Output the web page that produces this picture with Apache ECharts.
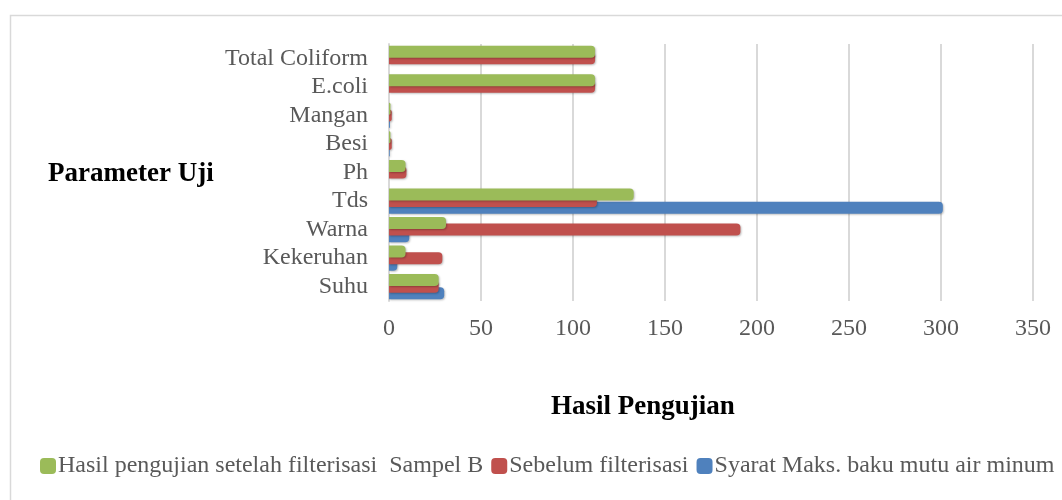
<!DOCTYPE html>
<html>
	<head>
		<meta charset="utf-8">
		<title>Hasil Pengujian</title>
		<script src="https://cdn.jsdelivr.net/npm/echarts@6/dist/echarts.min.js"></script>
		<style>
			body { margin: 0; background: #fff; }
		</style>
	</head>
	<body>
		<div id="main" style="width:1062px;height:500px;"></div>
		<script>
			// data
			var kategori = ['Suhu', 'Kekeruhan', 'Warna', 'Tds', 'Ph', 'Besi', 'Mangan', 'E.coli', 'Total Coliform'];
			var setelahFilter = [27, 9, 31, 133, 9, 0.8, 0.8, 112, 112];
			var sebelumFilter = [27, 29, 191, 113, 9.5, 1.5, 1.5, 112, 112];
			var syaratMaks = [30, 4.5, 11, 301, 0, 0.4, 0.5, 0, 0];
			var nilaiX = [0, 50, 100, 150, 200, 250, 300, 350];

			var font = 'Liberation Serif';
			var chart = echarts.init(document.getElementById('main'));

			function seri(nama, data, warna, z) {
				return {
					name: nama,
					type: 'bar',
					data: data,
					z: z,
					barWidth: 12,
					barGap: '-45%',
					itemStyle: {
						color: warna,
						borderRadius: [0, 4, 4, 0],
						shadowColor: 'rgba(0,0,0,0.25)',
						shadowBlur: 2,
						shadowOffsetX: 1,
						shadowOffsetY: 1
					}
				};
			}

			var option = {
				animation: false,
				textStyle: { fontFamily: font },
				graphic: [{
					type: 'rect',
					silent: true,
					shape: { x: 10.5, y: 15.5, width: 1100, height: 600 },
					style: { fill: 'none', stroke: '#d9d9d9', lineWidth: 1.5 }
				}, {
					type: 'text',
					left: 48, top: 161,
					style: { text: 'Parameter Uji', font: 'bold 27px "Liberation Serif"', fill: '#000' }
				}, {
					type: 'text',
					left: 551, top: 394,
					style: { text: 'Hasil Pengujian', font: 'bold 27px "Liberation Serif"', fill: '#000' }
				}],
				legend: {
					left: 40, top: 454,
					padding: 0,
					itemWidth: 16, itemHeight: 16,
					itemGap: 8,
					icon: 'roundRect',
					itemStyle: { shadowBlur: 0, shadowOffsetX: 0, shadowOffsetY: 0 },
					textStyle: { fontFamily: font, fontSize: 24, color: '#595959', padding: [0, 0, 0, -3] },
					data: ['Hasil pengujian setelah filterisasi  Sampel B', 'Sebelum filterisasi', 'Syarat Maks. baku mutu air minum']
				},
				grid: { left: 389, right: 29, top: 44, height: 257, containLabel: false },
				xAxis: {
					type: 'value',
					min: nilaiX[0],
					max: nilaiX[nilaiX.length - 1],
					interval: 50,
					axisLine: { show: false },
					axisTick: { show: false },
					axisLabel: { fontFamily: font, fontSize: 24, color: '#595959', margin: 16 },
					splitLine: { lineStyle: { color: '#d9d9d9', width: 2 } }
				},
				yAxis: {
					type: 'category',
					data: kategori,
					axisLine: { show: true, lineStyle: { color: '#d9d9d9', width: 2 } },
					axisTick: { show: false },
					axisLabel: { interval: 0, fontFamily: font, fontSize: 24, color: '#595959', margin: 21 }
				},
				series: [
					seri('Hasil pengujian setelah filterisasi  Sampel B', setelahFilter, '#9bbb59', 5),
					seri('Sebelum filterisasi', sebelumFilter, '#c0504d', 4),
					seri('Syarat Maks. baku mutu air minum', syaratMaks, '#4f81bd', 3)
				]
			};
			chart.setOption(option);
		</script>
	</body>
</html>
